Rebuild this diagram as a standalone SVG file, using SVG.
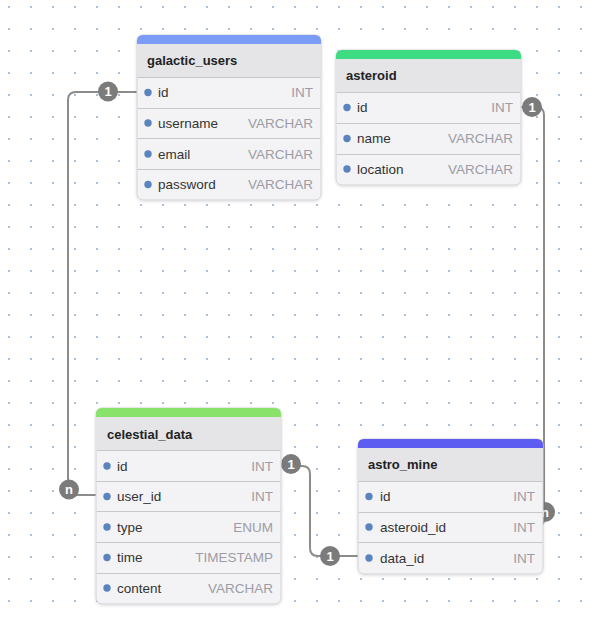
<svg xmlns="http://www.w3.org/2000/svg" width="598" height="622" viewBox="0 0 598 622">
<defs>
<pattern id="grid" x="8" y="6" width="22" height="22" patternUnits="userSpaceOnUse">
<rect x="0" y="0" width="2" height="2" fill="#a8c0d8"/>
</pattern>
<filter id="sh" x="-10%" y="-10%" width="120%" height="120%">
<feDropShadow dx="0" dy="1" stdDeviation="1.5" flood-color="#000" flood-opacity="0.15"/>
</filter>
<style>
.tbl{fill:#f3f3f5;stroke:#d2d2d7;stroke-width:1}
.hdr{fill:#e5e5e8}
.sep{stroke:#c6c6cd;stroke-width:1}
.title{font-family:"Liberation Sans",Arial,sans-serif;font-size:13px;font-weight:bold;fill:#222}
.fld{font-family:"Liberation Sans",Arial,sans-serif;font-size:13.5px;fill:#333}
.typ{font-family:"Liberation Sans",Arial,sans-serif;font-size:13.5px;fill:#9c9ca6;text-anchor:end}
.dot{fill:#5a84bd}
.conn{fill:none;stroke:#8c8c8c;stroke-width:2}
.badge{fill:#7b7b7b}
.bt{font-family:"Liberation Sans",Arial,sans-serif;font-size:13px;font-weight:bold;fill:#fff;text-anchor:middle}
</style>
</defs>
<rect width="598" height="622" fill="#fff"/>
<rect width="598" height="622" fill="url(#grid)"/>

<g id="connectors">
<path class="conn" d="M137 92 H76 Q68 92 68 100 V487 Q68 495 76 495 H96"/>
<circle class="badge" cx="108" cy="91.5" r="10"/><text class="bt" x="108" y="96">1</text>
<circle class="badge" cx="69" cy="489.5" r="10"/><text class="bt" x="69" y="494">n</text>
<path class="conn" d="M521 107 H536 Q544 107 544 115 V519 Q544 527 536 527 H543"/>
<circle class="badge" cx="532" cy="107" r="10"/><text class="bt" x="532" y="111.5">1</text>
<circle class="badge" cx="545" cy="512" r="10"/><text class="bt" x="545" y="516.5">n</text>
<path class="conn" d="M281 466 H302 Q310 466 310 474 V548 Q310 556 318 556 H358"/>
<circle class="badge" cx="291" cy="464" r="10"/><text class="bt" x="291" y="468.5">1</text>
<circle class="badge" cx="330" cy="556" r="10"/><text class="bt" x="330" y="560.5">1</text>
</g>

<g id="galactic_users">
<rect class="tbl" x="137" y="35" width="184" height="165" rx="6" filter="url(#sh)"/>
<path class="hdr" d="M137.5 44 H320.5 V77 H137.5 Z"/>
<path d="M137 44 V41 Q137 35 143 35 H315 Q321 35 321 41 V44 Z" fill="#7b9cf6"/>
<line class="sep" x1="137.5" y1="77.5" x2="320.5" y2="77.5"/>
<line class="sep" x1="137.5" y1="108.5" x2="320.5" y2="108.5"/>
<line class="sep" x1="137.5" y1="138.5" x2="320.5" y2="138.5"/>
<line class="sep" x1="137.5" y1="169.5" x2="320.5" y2="169.5"/>
<text class="title" x="147" y="65">galactic_users</text>
<circle class="dot" cx="148" cy="92.5" r="3.7"/><text class="fld" x="158" y="97">id</text><text class="typ" x="313" y="97">INT</text>
<circle class="dot" cx="148" cy="123" r="3.7"/><text class="fld" x="158" y="127.5">username</text><text class="typ" x="313" y="127.5">VARCHAR</text>
<circle class="dot" cx="148" cy="154" r="3.7"/><text class="fld" x="158" y="158.5">email</text><text class="typ" x="313" y="158.5">VARCHAR</text>
<circle class="dot" cx="148" cy="184.5" r="3.7"/><text class="fld" x="158" y="189">password</text><text class="typ" x="313" y="189">VARCHAR</text>
</g>

<g id="asteroid">
<rect class="tbl" x="336" y="50" width="185" height="135" rx="6" filter="url(#sh)"/>
<path class="hdr" d="M336.5 59 H520.5 V92 H336.5 Z"/>
<path d="M336 59 V56 Q336 50 342 50 H515 Q521 50 521 56 V59 Z" fill="#3ddc82"/>
<line class="sep" x1="336.5" y1="92.5" x2="520.5" y2="92.5"/>
<line class="sep" x1="336.5" y1="123.5" x2="520.5" y2="123.5"/>
<line class="sep" x1="336.5" y1="154.5" x2="520.5" y2="154.5"/>
<text class="title" x="346" y="80">asteroid</text>
<circle class="dot" cx="347" cy="107.5" r="3.7"/><text class="fld" x="357" y="112">id</text><text class="typ" x="513" y="112">INT</text>
<circle class="dot" cx="347" cy="138.5" r="3.7"/><text class="fld" x="357" y="143">name</text><text class="typ" x="513" y="143">VARCHAR</text>
<circle class="dot" cx="347" cy="169" r="3.7"/><text class="fld" x="357" y="173.5">location</text><text class="typ" x="513" y="173.5">VARCHAR</text>
</g>

<g id="celestial_data">
<rect class="tbl" x="96" y="408" width="185" height="196" rx="6" filter="url(#sh)"/>
<path class="hdr" d="M96.5 417 H280.5 V451 H96.5 Z"/>
<path d="M96 417 V414 Q96 408 102 408 H275 Q281 408 281 414 V417 Z" fill="#89e36a"/>
<line class="sep" x1="96.5" y1="450.5" x2="280.5" y2="450.5"/>
<line class="sep" x1="96.5" y1="481.5" x2="280.5" y2="481.5"/>
<line class="sep" x1="96.5" y1="511.5" x2="280.5" y2="511.5"/>
<line class="sep" x1="96.5" y1="542.5" x2="280.5" y2="542.5"/>
<line class="sep" x1="96.5" y1="573.5" x2="280.5" y2="573.5"/>
<text class="title" x="107" y="439">celestial_data</text>
<circle class="dot" cx="107" cy="466" r="3.7"/><text class="fld" x="117" y="470.5">id</text><text class="typ" x="273" y="470.5">INT</text>
<circle class="dot" cx="107" cy="496.5" r="3.7"/><text class="fld" x="117" y="501">user_id</text><text class="typ" x="273" y="501">INT</text>
<circle class="dot" cx="107" cy="527" r="3.7"/><text class="fld" x="117" y="531.5">type</text><text class="typ" x="273" y="531.5">ENUM</text>
<circle class="dot" cx="107" cy="557.5" r="3.7"/><text class="fld" x="117" y="562">time</text><text class="typ" x="273" y="562">TIMESTAMP</text>
<circle class="dot" cx="107" cy="588" r="3.7"/><text class="fld" x="117" y="592.5">content</text><text class="typ" x="273" y="592.5">VARCHAR</text>
</g>

<g id="astro_mine">
<rect class="tbl" x="358" y="439" width="185" height="135" rx="6" filter="url(#sh)"/>
<path class="hdr" d="M358.5 448 H542.5 V482 H358.5 Z"/>
<path d="M358 448 V445 Q358 439 364 439 H537 Q543 439 543 445 V448 Z" fill="#5d5df1"/>
<line class="sep" x1="358.5" y1="481.5" x2="542.5" y2="481.5"/>
<line class="sep" x1="358.5" y1="512.5" x2="542.5" y2="512.5"/>
<line class="sep" x1="358.5" y1="542.5" x2="542.5" y2="542.5"/>
<text class="title" x="368" y="469">astro_mine</text>
<circle class="dot" cx="369" cy="496.5" r="3.7"/><text class="fld" x="380" y="501">id</text><text class="typ" x="535" y="501">INT</text>
<circle class="dot" cx="369" cy="527" r="3.7"/><text class="fld" x="380" y="531.5">asteroid_id</text><text class="typ" x="535" y="531.5">INT</text>
<circle class="dot" cx="369" cy="558" r="3.7"/><text class="fld" x="380" y="562.5">data_id</text><text class="typ" x="535" y="562.5">INT</text>
</g>
</svg>
